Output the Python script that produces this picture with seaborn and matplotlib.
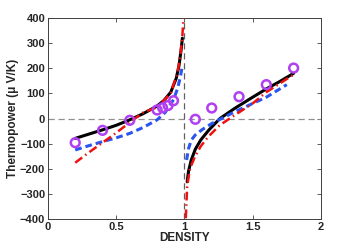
import matplotlib
matplotlib.use("Agg")
import matplotlib.pyplot as plt
import seaborn as sns
import pandas as pd

# --- data ---
black_left_x = [0.2, 0.3, 0.4, 0.5, 0.6, 0.7, 0.8, 0.85, 0.9, 0.94, 0.96, 0.975, 0.985]
black_left_y = [-79, -62, -45, -27, -5, 20, 50, 72, 105, 160, 210, 270, 320]
black_right_x = [1.02, 1.03, 1.05, 1.08, 1.12, 1.18, 1.26, 1.37, 1.5, 1.6, 1.7, 1.8]
black_right_y = [-252, -210, -165, -122, -85, -45, 0, 41, 85, 118, 148, 180]

blue_left_x = [0.2, 0.3, 0.4, 0.5, 0.6, 0.7, 0.8, 0.86, 0.92, 0.95, 0.97, 0.985]
blue_left_y = [-125, -108, -92, -77, -59, -35, -5, 25, 75, 120, 165, 210]
blue_right_x = [1.016, 1.03, 1.05, 1.08, 1.13, 1.2, 1.25, 1.37, 1.5, 1.6, 1.75]
blue_right_y = [-165, -120, -86, -65, -44, -20, -6, 27, 60, 85, 135]

red_left_x = [0.2, 0.3, 0.4, 0.5, 0.6, 0.7, 0.8, 0.9, 0.95, 0.97, 0.985, 0.993]
red_left_y = [-176, -135, -96, -57, -15, 25, 45, 100, 185, 250, 330, 400]
red_right_x = [1.01, 1.02, 1.04, 1.077, 1.12, 1.175, 1.26, 1.37, 1.5, 1.6, 1.7, 1.8]
red_right_y = [-397, -271, -200, -152, -110, -72, -26, 14, 60, 105, 140, 175]

circ_x = [0.2, 0.4, 0.6, 0.8, 0.84, 0.88, 0.92, 1.08, 1.2, 1.4, 1.6, 1.8]
circ_y = [-96, -47, -7, 34, 43, 52, 71, -3, 42, 87, 135, 201]

x_ticks = [0, 0.5, 1, 1.5, 2]
x_labels = ["0", "0.5", "1", "1.5", "2"]
y_ticks = [-400, -300, -200, -100, 0, 100, 200, 300, 400]

sns.set_style("ticks")
plt.rcParams["font.family"] = ["Liberation Sans", "DejaVu Sans"]
plt.rcParams["font.weight"] = "bold"

fig = plt.figure(figsize=(3.55, 2.48), dpi=100)
ax = fig.add_axes([0.135, 0.117, 0.769, 0.810])

# reference lines
ax.axhline(0, color="#909090", lw=0.9, ls=(0, (5, 3)), zorder=1)
ax.axvline(1, color="#606060", lw=0.9, ls=(0, (5, 3)), zorder=1)

styles = [
    (black_left_x, black_left_y, black_right_x, black_right_y,
     dict(color="black", lw=2.2, ls="-")),
    (blue_left_x, blue_left_y, blue_right_x, blue_right_y,
     dict(color="#2b55f0", lw=2.2, ls=(0, (2.2, 1.3)))),
    (red_left_x, red_left_y, red_right_x, red_right_y,
     dict(color="#f01010", lw=1.8, ls=(0, (3.5, 1.5, 0.6, 1.5)))),
]
for lx, ly, rx, ry, kw in styles:
    sns.lineplot(x=lx, y=ly, sort=False, ax=ax, zorder=3, **kw)
    sns.lineplot(x=rx, y=ry, sort=False, ax=ax, zorder=3, **kw)

sns.scatterplot(x=circ_x, y=circ_y, ax=ax, s=40, marker="o",
                facecolor="none", edgecolor="#b040f0", linewidth=1.8, zorder=4)

ax.set_xlim(0, 2)
ax.set_ylim(-400, 400)
ax.set_xticks(x_ticks)
ax.set_xticklabels(x_labels)
ax.set_yticks(y_ticks)
ax.tick_params(direction="in", length=3, width=0.6, labelsize=8,
               top=True, right=True, pad=2, color="#404040")
for lab in ax.get_xticklabels() + ax.get_yticklabels():
    lab.set_fontweight("bold")
for sp in ax.spines.values():
    sp.set_visible(True)
    sp.set_linewidth(0.7)
    sp.set_color("#404040")

ax.set_xlabel("DENSITY", fontsize=8.5, fontweight="bold", labelpad=0)
ax.set_ylabel("Thermopower (\u03bc V/K)", fontsize=8.5, fontweight="bold", labelpad=1)

fig.savefig("out.png", dpi=100)
